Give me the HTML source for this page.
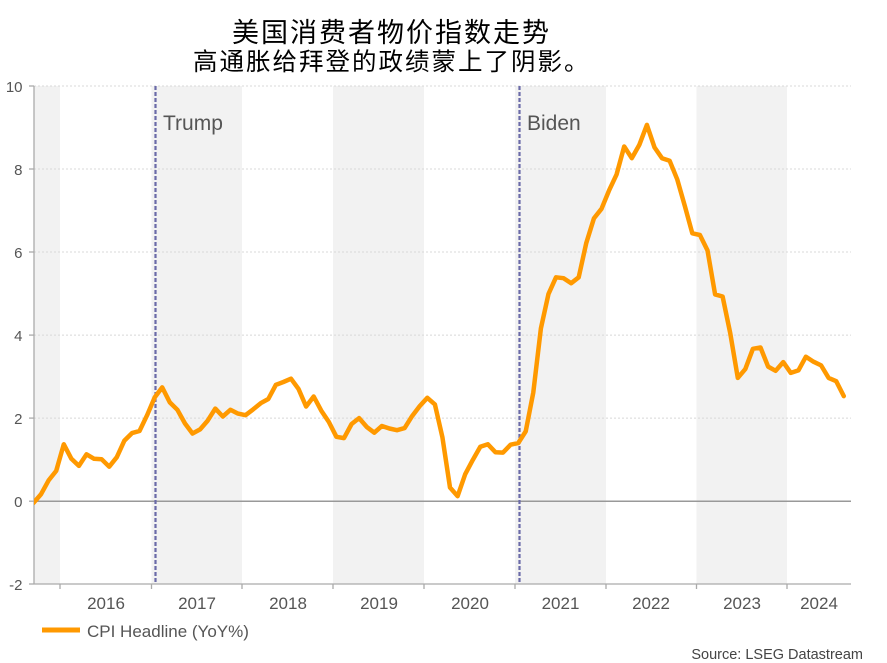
<!DOCTYPE html>
<html><head><meta charset="utf-8"><style>
html,body{margin:0;padding:0;background:#fff;}
body{width:887px;height:663px;position:relative;overflow:hidden;font-family:"Liberation Sans",Arial,sans-serif;}
.t{position:absolute;font-family:"Liberation Sans","Noto Sans CJK SC",sans-serif;color:#000;line-height:1;white-space:nowrap;}
svg{position:absolute;left:0;top:0;}
</style></head><body>
<div class="t" style="left:232px;top:19.5px;font-size:27px;letter-spacing:2px;">美国消费者物价指数走势</div>
<div class="t" style="left:193px;top:51px;font-size:24.5px;letter-spacing:2px;">高通胀给拜登的政绩蒙上了阴影。</div>
<svg width="887" height="663" viewBox="0 0 887 663" xmlns="http://www.w3.org/2000/svg">
<g fill="#f2f2f2">
<rect x="34" y="86" width="26" height="498"/>
<rect x="151.5" y="86" width="90.5" height="498"/>
<rect x="333" y="86" width="91" height="498"/>
<rect x="515" y="86" width="91" height="498"/>
<rect x="696.5" y="86" width="90.5" height="498"/>
</g>
<g stroke="#d8d8d8" stroke-width="1" stroke-dasharray="2,2">
<line x1="34" y1="418.1" x2="851" y2="418.1"/>
<line x1="34" y1="335.1" x2="851" y2="335.1"/>
<line x1="34" y1="252" x2="851" y2="252"/>
<line x1="34" y1="169" x2="851" y2="169"/>
<line x1="34" y1="86" x2="851" y2="86"/>
</g>
<line x1="34" y1="501.2" x2="851" y2="501.2" stroke="#999" stroke-width="1.5"/>
<g stroke="#aaa" stroke-width="1.3">
<line x1="34" y1="86" x2="34" y2="584"/>
<line x1="34" y1="584" x2="851" y2="584"/>
<line x1="29" y1="86" x2="34" y2="86"/>
<line x1="29" y1="169" x2="34" y2="169"/>
<line x1="29" y1="252" x2="34" y2="252"/>
<line x1="29" y1="335.1" x2="34" y2="335.1"/>
<line x1="29" y1="418.1" x2="34" y2="418.1"/>
<line x1="29" y1="501.2" x2="34" y2="501.2"/>
<line x1="29" y1="584" x2="34" y2="584"/>
<line x1="60" y1="584" x2="60" y2="589"/>
<line x1="151.5" y1="584" x2="151.5" y2="589"/>
<line x1="242" y1="584" x2="242" y2="589"/>
<line x1="333" y1="584" x2="333" y2="589"/>
<line x1="424" y1="584" x2="424" y2="589"/>
<line x1="515" y1="584" x2="515" y2="589"/>
<line x1="606" y1="584" x2="606" y2="589"/>
<line x1="696.5" y1="584" x2="696.5" y2="589"/>
<line x1="787" y1="584" x2="787" y2="589"/>
</g>
<g stroke="#6b6ba8" stroke-width="2.2" stroke-dasharray="4,2">
<line x1="155.5" y1="86" x2="155.5" y2="584"/>
<line x1="519.5" y1="86" x2="519.5" y2="584"/>
</g>
<g font-size="21" fill="#555">
<text x="163" y="130">Trump</text>
<text x="527" y="130">Biden</text>
</g>
<g font-size="15" fill="#555" text-anchor="end">
<text x="22.5" y="92">10</text>
<text x="22.5" y="175">8</text>
<text x="22.5" y="258">6</text>
<text x="22.5" y="341">4</text>
<text x="22.5" y="424">2</text>
<text x="22.5" y="507">0</text>
<text x="22.5" y="590">-2</text>
</g>
<g font-size="17" fill="#555" text-anchor="middle">
<text x="106" y="609">2016</text>
<text x="197" y="609">2017</text>
<text x="288" y="609">2018</text>
<text x="379" y="609">2019</text>
<text x="470" y="609">2020</text>
<text x="560.5" y="609">2021</text>
<text x="651" y="609">2022</text>
<text x="742" y="609">2023</text>
<text x="819" y="609">2024</text>
</g>
<clipPath id="c"><rect x="34" y="60" width="830" height="530"/></clipPath>
<polyline clip-path="url(#c)" fill="none" stroke="#ff9900" stroke-width="4.5" stroke-linejoin="round" stroke-linecap="round" points="
33.5,502.9 41.1,494.1 48.6,480.4 56.2,470.9
63.8,444.3 71.4,458.8 78.9,465.9 86.5,454.3 94.1,458.8 101.7,459.3 109.2,466.7 116.8,457.2 124.4,440.6 132,433.1 139.5,431 147.1,415.2
154.7,397.4 162.2,387.4 169.8,402.4 177.4,409.8 185,423.5 192.5,433.5 200.1,429.4 207.7,420.6 215.3,408.6 222.8,416.5 230.4,409.8 238,413.6
245.5,415.2 253.1,409.4 260.7,403.2 268.3,399 275.8,384.9 283.4,382 291,378.7 298.6,389.1 306.1,406.5 313.7,396.5 321.3,410.7 328.8,421.9
336.4,436.8 344,438.1 351.6,424 359.1,418.1 366.7,426.9 374.3,432.7 381.9,426 389.4,428.5 397,430.2 404.6,428.1 412.1,416.1 419.7,406.1
427.3,397.8 434.9,404.4 442.4,437.2 450,487.5 457.6,496.2 465.2,474.2 472.7,460.1 480.3,446.8 487.9,444.3 495.4,452.2 503,452.6 510.6,444.7
518.2,443.1 525.7,431.4 533.3,392.4 540.9,328.4 548.5,293.9 556,277.3 563.6,278.2 571.2,283.2 578.7,277.3 586.3,242.9 593.9,218.4 601.5,208.8
609,190.6 616.6,174.4 624.2,146.5 631.8,158.2 639.3,144.9 646.9,124.9 654.5,147.4 662,158.2 669.6,160.7 677.2,179.3 684.8,205.9 692.3,233.3
699.9,235 707.5,250.4 715.1,294.4 722.6,296.5 730.2,333 737.8,377.9 745.3,369.1 752.9,348.8 760.5,347.5 768.1,366.6 775.6,370.8 783.2,362.1
790.8,372.9 798.4,370.4 805.9,356.7 813.5,361.7 821.1,365.4 828.6,377.9 836.2,381.2 843.8,396.1"/>
<line x1="42" y1="630" x2="80" y2="630" stroke="#ff9900" stroke-width="5"/>
<text x="87" y="637" font-size="17" fill="#555">CPI Headline (YoY%)</text>
<text x="863" y="659" font-size="14.5" fill="#444" text-anchor="end">Source: LSEG Datastream</text>
</svg>
</body></html>
